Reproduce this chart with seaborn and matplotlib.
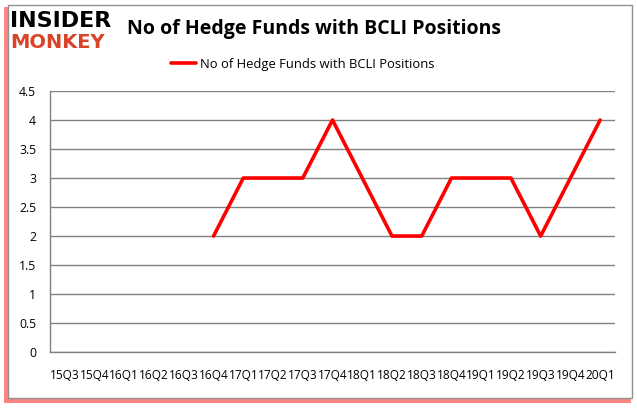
import numpy as np
import pandas as pd
import matplotlib.pyplot as plt
import matplotlib.patches as patches
import seaborn as sns

quarters = ["15Q3", "15Q4", "16Q1", "16Q2", "16Q3", "16Q4", "17Q1", "17Q2", "17Q3", "17Q4",
            "18Q1", "18Q2", "18Q3", "18Q4", "19Q1", "19Q2", "19Q3", "19Q4", "20Q1"]
funds = [np.nan, np.nan, np.nan, np.nan, np.nan, 2, 3, 3, 3, 4,
         3, 2, 2, 3, 3, 3, 2, 3, 4]
y_ticks = [0, 0.5, 1, 1.5, 2, 2.5, 3, 3.5, 4, 4.5]
y_labels = ["0", "0.5", "1", "1.5", "2", "2.5", "3", "3.5", "4", "4.5"]
series_name = "No of Hedge Funds with BCLI Positions"

sns.set_style("white")
plt.rcParams['font.family'] = ['Open Sans', 'DejaVu Sans']
plt.rcParams['text.color'] = 'black'
plt.rcParams['xtick.color'] = 'black'
plt.rcParams['ytick.color'] = 'black'

df = pd.DataFrame({"pos": np.arange(len(quarters)), "funds": funds})

fig = plt.figure(figsize=(6.37, 4.08), dpi=100)

# red shadow + grey frame
shadow = patches.Rectangle((0.006, 0.012), 0.984, 0.97, transform=fig.transFigure,
                           facecolor="#ff2020", edgecolor="none", alpha=0.55, zorder=0)
frame = patches.Rectangle((0.013, 0.025), 0.979, 0.962, transform=fig.transFigure,
                          facecolor="white", edgecolor="#909090", linewidth=1, zorder=1)
fig.patches.extend([shadow, frame])

ax = fig.add_axes([0.0785, 0.137, 0.887, 0.640])
ax.set_zorder(5)
ax.set_facecolor("none")
sns.lineplot(data=df, x="pos", y="funds", ax=ax, color="#ff0000", linewidth=2.6,
             label=series_name)

n = len(quarters)
ax.set_xlim(-0.5, n - 0.5)
ax.set_ylim(0, 4.5)
ax.set_yticks(y_ticks)
ax.set_yticklabels(y_labels, fontsize=8.8)
ax.set_xticks(np.arange(n))
ax.set_xticklabels(quarters, fontsize=8.6)
ax.set_xticks(np.arange(n + 1) - 0.5, minor=True)
ax.tick_params(axis="x", which="major", length=0, pad=12)
ax.tick_params(axis="x", which="minor", length=4, color="#808080", direction="out")
ax.tick_params(axis="y", length=4, color="#808080", labelcolor="black", direction="out", pad=6)
ax.set_xlabel("")
ax.set_ylabel("")
ax.yaxis.grid(True, color="#808080", linewidth=1)
ax.set_axisbelow(True)
for s in ["top", "right"]:
    ax.spines[s].set_visible(False)
for s in ["left", "bottom"]:
    ax.spines[s].set_color("#808080")
    ax.spines[s].set_linewidth(1)

ax.legend(loc="center", bbox_to_anchor=(0.475, 0.843), bbox_transform=fig.transFigure,
          frameon=False, fontsize=9.4, handlelength=1.9, handletextpad=0.3)

fig.text(0.2, 0.93, "No of Hedge Funds with BCLI Positions", fontsize=14,
         fontweight="bold", va="center", ha="left", color="black")
fig.text(0.016, 0.948, "INSIDER", fontsize=16, fontweight="heavy", color="black",
         va="center", ha="left", family="DejaVu Sans")
fig.text(0.016, 0.896, "MONKEY", fontsize=14, fontweight="heavy", color="#d8432a",
         va="center", ha="left", family="DejaVu Sans")

plt.savefig("out.png", dpi=100)
